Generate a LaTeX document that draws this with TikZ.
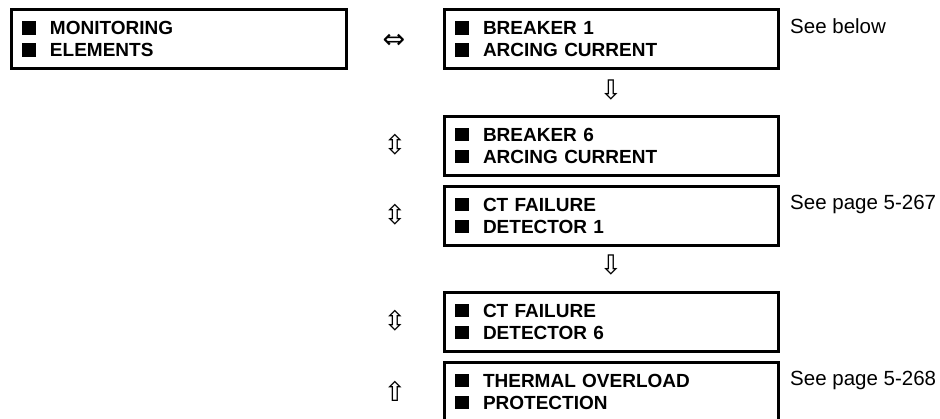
\documentclass[tikz,border=0pt]{standalone}
\usepackage{fontspec}
\setmainfont{Liberation Sans}
\newfontfamily\arrowfont{DejaVu Sans}
\usepackage{tikz}
\usetikzlibrary{positioning}

\newcommand{\sqb}{\makebox[28pt][l]{\rule{14pt}{13.5pt}}}

\begin{document}
\begin{tikzpicture}[x=1pt, y=-1pt,
  menu/.style={draw, line width=3pt, minimum width=334pt, minimum height=59pt, text width=313pt, align=left, inner xsep=10.5pt, inner ysep=0pt, font=\fontsize{19}{22}\selectfont\bfseries},
  glyph/.style={font=\arrowfont\fontsize{27}{27}\selectfont, inner sep=0pt},
  note/.style={anchor=base west, font=\fontsize{20.5}{24}\selectfont, inner sep=0pt}
]
\useasboundingbox (0,0) rectangle (940,418);

% Menu principal
\node[menu, minimum width=335pt, text width=314pt] (monel) at (179,39) {\sqb MONITORING\\\sqb ELEMENTS};

% Submenus
\node[menu] (brk1)    at (611.5,39)    {\sqb BREAKER 1\\\sqb ARCING CURRENT};
\node[menu] (brk6)    at (611.5,145.5) {\sqb BREAKER 6\\\sqb ARCING CURRENT};
\node[menu] (ctf1)    at (611.5,215.5) {\sqb CT FAILURE\\\sqb DETECTOR 1};
\node[menu] (ctf6)    at (611.5,321.5) {\sqb CT FAILURE\\\sqb DETECTOR 6};
\node[menu] (thermal) at (611.5,391.5) {\sqb THERMAL OVERLOAD\\\sqb PROTECTION};

% Flechas
\node[glyph] (lr)    at (394,41)  {⇔};
\node[glyph] (dn1)   at (611,90)  {⇩};
\node[glyph] (dn2)   at (611,265) {⇩};
\node[glyph] (ud1)   at (395,145) {⇳};
\node[glyph] (ud2)   at (395,215) {⇳};
\node[glyph] (ud3)   at (395,321) {⇳};
\node[glyph] (up)    at (395,391) {⇧};

% Referencias
\node[note] (seebrk) at (790,33)  {See below};
\node[note] (seectf) at (790,209) {See page 5-267};
\node[note] (seethm) at (790,385) {See page 5-268};
\end{tikzpicture}
\end{document}
